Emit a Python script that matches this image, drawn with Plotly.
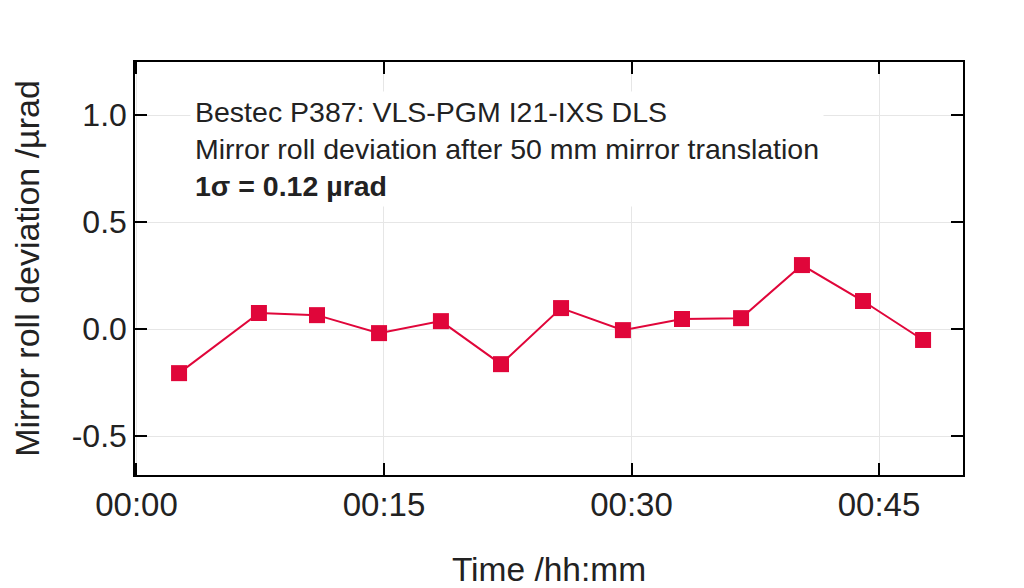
import pandas as pd
import plotly.graph_objects as go

# Data (minutes after start, roll deviation in µrad)
minutes = [2.58, 7.42, 10.94, 14.70, 18.45, 22.09, 25.73, 29.48, 33.06, 36.64, 40.33, 44.03, 47.67]
deviation = [-0.206, 0.075, 0.065, -0.019, 0.037, -0.164, 0.098, -0.005, 0.047, 0.051, 0.299, 0.131, -0.051]

y_tickvals = [-0.5, 0.0, 0.5, 1.0]
y_ticktext = ["-0.5", "0.0", "0.5", "1.0"]
x_tick_minutes = [0, 15, 30, 45]
x_ticktext = ["00:00", "00:15", "00:30", "00:45"]

base = pd.Timestamp("2000-01-01 00:00:00")
times = [base + pd.Timedelta(minutes=m) for m in minutes]
x_tickvals = [base + pd.Timedelta(minutes=m) for m in x_tick_minutes]
x_range = [base + pd.Timedelta(minutes=-0.09), base + pd.Timedelta(minutes=50.09)]

red = "#E0063A"
txt = "#222222"
font_family = "Liberation Sans, Arial, Helvetica, sans-serif"

fig = go.Figure()
fig.add_trace(go.Scatter(
    x=times, y=deviation, mode="lines+markers",
    line=dict(color=red, width=2),
    marker=dict(symbol="square", size=16, color=red),
    showlegend=False,
))

axis_common = dict(
    showline=True, linecolor="black", linewidth=1.5, mirror="allticks",
    ticks="inside", ticklen=12, tickwidth=1.5, tickcolor="black",
    showgrid=True, gridcolor="#e6e6e6", gridwidth=1, zeroline=False,
    automargin=False,
)

fig.update_xaxes(
    type="date", range=x_range, tickvals=x_tickvals, ticktext=x_ticktext,
    tickfont=dict(size=33, color=txt, family=font_family),
    title=dict(text="Time /hh:mm", font=dict(size=33.5, color=txt, family=font_family), standoff=42),
    **axis_common,
)
fig.update_yaxes(
    range=[-0.682, 1.248], tickvals=y_tickvals, ticktext=y_ticktext,
    tickfont=dict(size=32, color=txt, family=font_family),
    title=dict(text="Mirror roll deviation /µrad", font=dict(size=34, color=txt, family=font_family), standoff=42),
    **axis_common,
)

fig.add_annotation(
    xref="paper", yref="paper", x=0.066, y=0.93, xanchor="left", yanchor="top",
    align="left", showarrow=False, bgcolor="white", borderpad=4,
    text="Bestec P387: VLS-PGM I21-IXS DLS<br>Mirror roll deviation after 50 mm mirror translation<br><b>1σ = 0.12 µrad</b>",
    font=dict(size=28.5, color=txt, family=font_family),
)

fig.update_layout(
    width=1016, height=580,
    margin=dict(l=127, r=61, t=54, b=113),
    paper_bgcolor="white", plot_bgcolor="white",
    font=dict(family=font_family, color=txt),
)

fig.write_html("out.html")
